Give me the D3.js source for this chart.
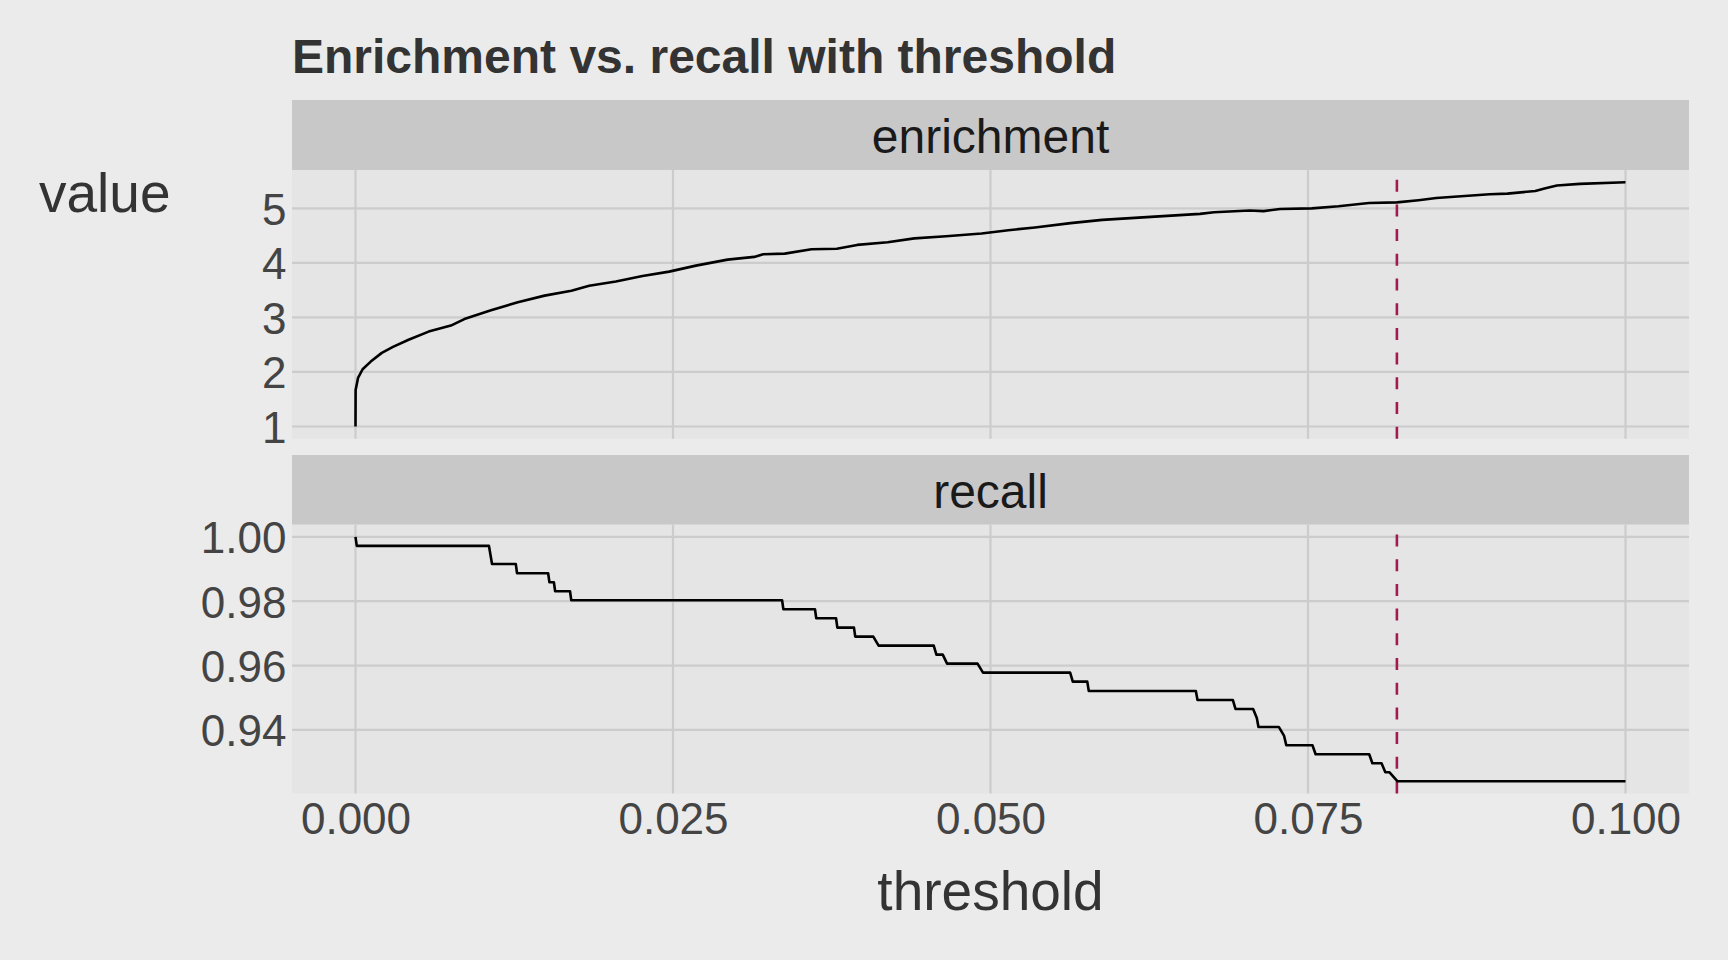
<!DOCTYPE html>
<html>
<head>
<meta charset="utf-8">
<script src="https://cdn.jsdelivr.net/npm/d3@7"></script>
<style>
  html, body { margin: 0; padding: 0; background: #EBEBEB; }
  svg { display: block; font-family: "Liberation Sans", Arial, Helvetica, sans-serif; }
</style>
</head>
<body>
<svg id="chart" width="1728" height="960"></svg>
<script>
// ---------------- data ----------------
const chartTitle = "Enrichment vs. recall with threshold";
const xTitle = "threshold";
const yTitle = "value";
const facetNames = ["enrichment", "recall"];

const enrichThreshold = [0, 0.00001, 0.0002, 0.00056, 0.0012, 0.00207, 0.00295, 0.00418, 0.00576, 0.00751,
  0.00857, 0.01067, 0.01278, 0.01489, 0.017, 0.0184, 0.0205, 0.0226, 0.0247, 0.0268,
  0.0293, 0.0314, 0.0321, 0.0338, 0.0359, 0.0379, 0.0395, 0.0419, 0.044, 0.0465,
  0.0493, 0.0514, 0.0535, 0.0563, 0.0588, 0.0623, 0.0665, 0.0676, 0.0704, 0.0715,
  0.0728, 0.0753, 0.0774, 0.0798, 0.082, 0.0837, 0.0851, 0.0893, 0.0907, 0.0929,
  0.0937, 0.0946, 0.0964, 0.1];
const enrichValue = [1.0, 1.67, 1.89, 2.05, 2.19, 2.35, 2.46, 2.59, 2.74, 2.85,
  2.97, 3.13, 3.28, 3.40, 3.49, 3.58, 3.66, 3.76, 3.84, 3.95,
  4.06, 4.11, 4.16, 4.17, 4.25, 4.26, 4.33, 4.38, 4.45, 4.49,
  4.54, 4.60, 4.65, 4.73, 4.79, 4.84, 4.90, 4.93, 4.96, 4.95,
  4.99, 5.00, 5.04, 5.10, 5.11, 5.15, 5.19, 5.26, 5.27, 5.32,
  5.37, 5.42, 5.45, 5.48];

const recallThreshold = [0, 0.0001, 0.01051, 0.01063, 0.01075, 0.01262, 0.01272, 0.01517, 0.01527, 0.01562,
  0.01572, 0.01689, 0.01699, 0.03359, 0.03369, 0.03618, 0.03628, 0.03784, 0.03794, 0.03925,
  0.03935, 0.04077, 0.04119, 0.04553, 0.04574, 0.04624, 0.04658, 0.04898, 0.04941, 0.05627,
  0.05648, 0.05762, 0.05774, 0.06617, 0.0663, 0.06908, 0.06929, 0.07068, 0.07097, 0.0711,
  0.0727, 0.07312, 0.07329, 0.07535, 0.0756, 0.07982, 0.08007, 0.08079, 0.08109, 0.08142,
  0.08205, 0.1];
const recallValue = [1.0, 0.9972, 0.9972, 0.9944, 0.9916, 0.9916, 0.9887, 0.9887, 0.9859, 0.9859,
  0.9831, 0.9831, 0.9803, 0.9803, 0.9775, 0.9775, 0.9747, 0.9747, 0.9718, 0.9718,
  0.9690, 0.9690, 0.9662, 0.9662, 0.9634, 0.9634, 0.9606, 0.9606, 0.9578, 0.9578,
  0.9550, 0.9550, 0.9521, 0.9521, 0.9493, 0.9493, 0.9465, 0.9465, 0.9437, 0.9409,
  0.9409, 0.9381, 0.9352, 0.9352, 0.9324, 0.9324, 0.9296, 0.9296, 0.9268, 0.9268,
  0.9240, 0.9240];

const chosenThreshold = 0.0820;

const xTickValues = [0, 0.025, 0.05, 0.075, 0.1];
const enrichTickValues = [1, 2, 3, 4, 5];
const recallTickValues = [0.94, 0.96, 0.98, 1.00];

// ---------------- layout ----------------
const svg = d3.select("#chart");
const W = 1728, H = 960;
const left = 292, right = 1689;
const panels = [
  { name: facetNames[0], stripTop: 100, top: 170, bottom: 438.7,
    xs: enrichThreshold, ys: enrichValue, ticks: enrichTickValues, fmt: d3.format("d") },
  { name: facetNames[1], stripTop: 455, top: 524.7, bottom: 793.5,
    xs: recallThreshold, ys: recallValue, ticks: recallTickValues, fmt: d3.format(".2f") }
];

const BG = "#EBEBEB", PANEL = "#E5E5E5", STRIP = "#C8C8C8", GRID = "#CCCCCC";

svg.append("rect").attr("width", W).attr("height", H).attr("fill", BG);

function expand(ext, m) { const d = ext[1] - ext[0]; return [ext[0] - d * m, ext[1] + d * m]; }

const allX = enrichThreshold.concat(recallThreshold);
const x = d3.scaleLinear().domain(expand(d3.extent(allX), 0.05)).range([left, right]);

panels.forEach((p, i) => {
  const y = d3.scaleLinear().domain(expand(d3.extent(p.ys), 0.05)).range([p.bottom, p.top]);
  const g = svg.append("g");

  // strip
  g.append("rect").attr("x", left).attr("y", p.stripTop)
    .attr("width", right - left).attr("height", p.top - p.stripTop).attr("fill", STRIP);
  g.append("text").attr("x", (left + right) / 2).attr("y", p.stripTop + 52.5)
    .attr("text-anchor", "middle").attr("font-size", 48).attr("fill", "#1A1A1A").text(p.name);

  // panel background
  g.append("rect").attr("x", left).attr("y", p.top)
    .attr("width", right - left).attr("height", p.bottom - p.top).attr("fill", PANEL);

  // gridlines
  g.selectAll(".vg").data(xTickValues).enter().append("line")
    .attr("x1", d => x(d)).attr("x2", d => x(d)).attr("y1", p.top).attr("y2", p.bottom)
    .attr("stroke", GRID).attr("stroke-width", 2.2);
  g.selectAll(".hg").data(p.ticks).enter().append("line")
    .attr("x1", left).attr("x2", right).attr("y1", d => y(d)).attr("y2", d => y(d))
    .attr("stroke", GRID).attr("stroke-width", 2.2);

  // y axis labels
  const ya = g.append("g").attr("transform", `translate(${left},0)`)
    .call(d3.axisLeft(y).tickValues(p.ticks).tickFormat(p.fmt).tickSize(0).tickPadding(5.5));
  ya.select(".domain").remove();
  ya.selectAll("text").attr("font-size", 44).attr("fill", "#444444")
    .attr("font-family", "Liberation Sans, Arial, sans-serif").attr("dy", "0.36em");

  // threshold line (dash pattern starts at bottom)
  g.append("line").attr("x1", x(chosenThreshold)).attr("x2", x(chosenThreshold))
    .attr("y1", p.bottom).attr("y2", p.top)
    .attr("stroke", "#A21A4F").attr("stroke-width", 2.6).attr("stroke-dasharray", "12,12.7");

  // data line
  const pts = p.xs.map((t, k) => [t, p.ys[k]]);
  g.append("path").datum(pts)
    .attr("d", d3.line().x(d => x(d[0])).y(d => y(d[1])))
    .attr("fill", "none").attr("stroke", "#000").attr("stroke-width", 2.6)
    .attr("stroke-linejoin", "round");

  if (i === panels.length - 1) {
    const xa = svg.append("g").attr("transform", `translate(0,${p.bottom})`)
      .call(d3.axisBottom(x).tickValues(xTickValues).tickFormat(d3.format(".3f")).tickSize(0).tickPadding(9.5));
    xa.select(".domain").remove();
    xa.selectAll("text").attr("font-size", 44).attr("fill", "#444444")
      .attr("font-family", "Liberation Sans, Arial, sans-serif");
  }
});

// titles
svg.append("text").attr("x", 292).attr("y", 73).attr("font-size", 48).attr("font-weight", "bold")
  .attr("fill", "#333333").text(chartTitle);
svg.append("text").attr("x", 39).attr("y", 211.5).attr("font-size", 55)
  .attr("fill", "#333333").text(yTitle);
svg.append("text").attr("x", (left + right) / 2).attr("y", 910).attr("text-anchor", "middle")
  .attr("font-size", 55).attr("fill", "#333333").text(xTitle);
</script>
</body>
</html>
